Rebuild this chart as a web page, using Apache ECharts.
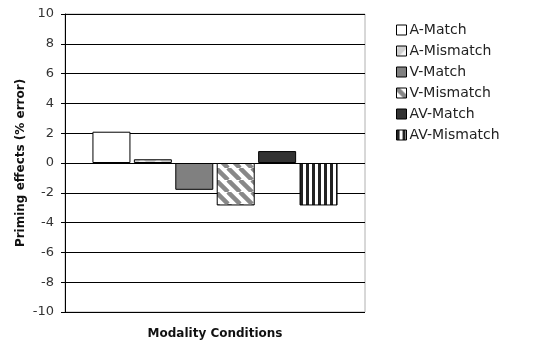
<!DOCTYPE html>
<html><head><meta charset="utf-8">
<script src="https://cdn.jsdelivr.net/npm/echarts@6/dist/echarts.min.js"></script>
<style>html,body{margin:0;padding:0;background:#fff}#c{width:534px;height:342px}</style>
</head><body><div id="c"></div>
<script>
const categories = ['Modality Conditions'];
const seriesNames = ['A-Match','A-Mismatch','V-Match','V-Mismatch','AV-Match','AV-Mismatch'];
const seriesValues = [2.1, 0.25, -1.8, -2.85, 0.8, -2.85];
const yTicks = {min: -10, max: 10, interval: 2};

function diagPattern(bg, fg, size, lw) {
  const c = document.createElement('canvas'); c.width = size; c.height = size;
  const g = c.getContext('2d');
  g.fillStyle = bg; g.fillRect(0,0,size,size);
  g.strokeStyle = fg; g.lineWidth = lw;
  for (let k = -1; k <= 1; k++) {
    g.beginPath(); g.moveTo(k*size, 0); g.lineTo(k*size + size, size); g.stroke();
  }
  return c;
}
function vertPattern(bg, fg, size, w) {
  const c = document.createElement('canvas'); c.width = size; c.height = 4;
  const g = c.getContext('2d');
  g.fillStyle = bg; g.fillRect(0,0,size,4);
  g.fillStyle = fg; g.fillRect(0,0,w,4);
  return c;
}
function softPattern() {
  const c = document.createElement('canvas'); c.width = 16; c.height = 16;
  const g = c.getContext('2d');
  g.fillStyle = '#cfcfcf'; g.fillRect(0,0,16,16);
  g.strokeStyle = '#f4f4f4'; g.lineWidth = 5;
  for (let k = -1; k <= 1; k++) { g.beginPath(); g.moveTo(k*16+16, 0); g.lineTo(k*16, 16); g.stroke(); }
  return c;
}
const fills = [
  '#ffffff',
  {image: softPattern(), repeat: 'repeat'},
  '#808080',
  {image: diagPattern('#ffffff', '#888888', 12, 4.5), repeat: 'repeat'},
  '#333333',
  {image: vertPattern('#ffffff', '#222222', 6, 3), repeat: 'repeat'}
];

const chart = echarts.init(document.getElementById('c'), null, {renderer: 'canvas'});
const font = 'DejaVu Sans';
chart.setOption({
  animation: false,
  textStyle: {fontFamily: font},
  grid: {left: 65, top: 14, width: 300, height: 298, outerBoundsMode: 'none', containLabel: false,
         show: true, borderColor: '#b0b0b0', borderWidth: 1, backgroundColor: 'transparent'},
  legend: {
    orient: 'vertical', left: 391, top: 18, itemWidth: 10, itemHeight: 10, itemGap: 7,
    icon: 'rect',
    itemStyle: {borderColor: '#000', borderWidth: 1},
    textStyle: {fontFamily: font, fontSize: 14, color: '#222', padding: [0,0,0,-2]},
    data: seriesNames
  },
  xAxis: {
    type: 'category', data: categories,
    axisLabel: {show: false}, axisTick: {show: false},
    axisLine: {show: false},
    name: 'Modality Conditions', nameLocation: 'middle', nameGap: 16,
    nameTextStyle: {fontFamily: font, fontWeight: 'bold', fontSize: 12, color: '#111'}
  },
  yAxis: {
    type: 'value', min: yTicks.min, max: yTicks.max, interval: yTicks.interval,
    axisLine: {show: true, lineStyle: {color: '#000', width: 1}},
    axisTick: {show: true, length: 4, lineStyle: {color: '#000'}},
    axisLabel: {fontFamily: font, fontSize: 13, color: '#333', margin: 11},
    splitLine: {show: true, lineStyle: {color: '#000', width: 1}},
    name: 'Priming effects (% error)', nameLocation: 'middle', nameGap: 38, nameMoveOverlap: false,
    nameTextStyle: {fontFamily: font, fontWeight: 'bold', fontSize: 12, color: '#111'}
  },
  series: seriesNames.map((n, i) => ({
    name: n, type: 'bar', data: [seriesValues[i]],
    barWidth: 38, barGap: '9%',
    itemStyle: {color: fills[i], borderColor: '#000', borderWidth: 1}
  }))
});
</script></body></html>
